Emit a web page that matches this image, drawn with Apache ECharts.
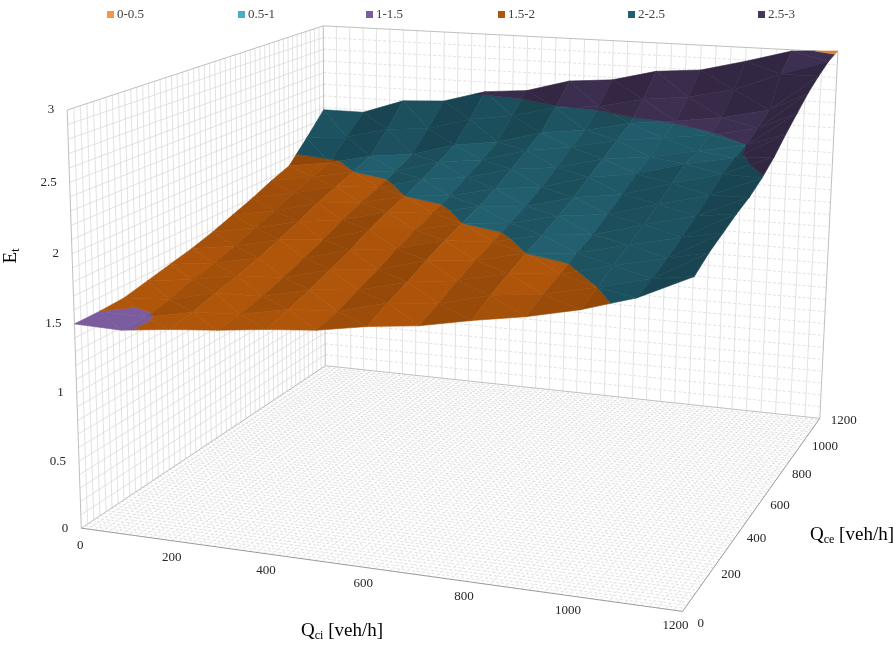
<!DOCTYPE html>
<html>
<head>
<meta charset="utf-8">
<script src="https://cdn.jsdelivr.net/npm/echarts@6/dist/echarts.min.js"></script>
<style>
html, body { margin: 0; padding: 0; background: #fff; }
#chart { width: 893px; height: 645px; }
</style>
</head>
<body>
<div id="chart"></div>
<script>
// Q_ci along the front, Q_ce along the depth, E_t up
var qciCategories = [0, 100, 200, 300, 400, 500, 600, 700, 800, 900, 1000, 1100, 1200];
var qceCategories = [0, 100, 200, 300, 400, 500, 600, 700, 800, 900, 1000, 1100, 1200];
// one row per Q_ce value, one column per Q_ci value
var etByQce = [
    [1.50, 1.49, 1.53, 1.56, 1.60, 1.63, 1.69, 1.73, 1.80, 1.86, 1.94, 2.05, 2.22],
    [1.50, 1.49, 1.56, 1.58, 1.65, 1.67, 1.76, 1.79, 1.88, 1.92, 2.00, 2.09, 2.29],
    [1.51, 1.53, 1.61, 1.62, 1.70, 1.73, 1.82, 1.86, 1.94, 1.97, 2.06, 2.14, 2.34],
    [1.55, 1.59, 1.65, 1.67, 1.76, 1.79, 1.89, 1.92, 2.00, 2.03, 2.12, 2.20, 2.39],
    [1.59, 1.63, 1.70, 1.73, 1.82, 1.86, 1.95, 1.97, 2.05, 2.08, 2.18, 2.27, 2.43],
    [1.63, 1.68, 1.76, 1.79, 1.89, 1.92, 2.00, 2.03, 2.11, 2.15, 2.25, 2.34, 2.49],
    [1.68, 1.74, 1.82, 1.86, 1.95, 1.97, 2.05, 2.08, 2.17, 2.22, 2.33, 2.42, 2.57],
    [1.74, 1.80, 1.89, 1.92, 2.00, 2.03, 2.11, 2.15, 2.25, 2.30, 2.40, 2.47, 2.67],
    [1.80, 1.87, 1.95, 1.97, 2.06, 2.10, 2.19, 2.23, 2.32, 2.36, 2.43, 2.50, 2.76],
    [1.87, 1.93, 2.00, 2.03, 2.13, 2.17, 2.27, 2.32, 2.40, 2.44, 2.49, 2.56, 2.85],
    [1.93, 1.98, 2.06, 2.10, 2.20, 2.25, 2.35, 2.39, 2.47, 2.51, 2.56, 2.64, 2.92],
    [2.10, 2.13, 2.22, 2.25, 2.35, 2.40, 2.49, 2.52, 2.60, 2.64, 2.72, 2.86, 2.98],
    [2.28, 2.28, 2.40, 2.42, 2.52, 2.55, 2.65, 2.68, 2.77, 2.80, 2.89, 2.99, 3.01]
];
var bandNames = ['0-0.5', '0.5-1', '1-1.5', '1.5-2', '2-2.5', '2.5-3'];
var bandColors = ['#F79646', '#4BACC6', '#7B5C9E', '#B0560A', '#226070', '#46365C', '#F79646'];
var etTicks = [0, 0.5, 1, 1.5, 2, 2.5, 3];
var qTicks = [0, 200, 400, 600, 800, 1000, 1200];

var Q_MAX = 1200, E_MAX = 3, BAND = 0.5;
var FONT = '"Liberation Serif", "Times New Roman", serif';

// box corners and axis ticks on screen, used to fit a perspective camera (x, y, z in 0..1)
var frameRefs = [
    [0, 0, 0, 83, 530], [1, 0, 0, 690, 610], [1, 1, 0, 820, 418], [0, 1, 0, 327, 367],
    [0, 0, 1, 67, 107], [0, 1, 1, 322, 25], [1, 1, 1, 837, 52], [1, 0, 1, 700, 158],
    [0, 0, 1 / 6, 80.5, 463], [0, 0, 1 / 3, 77.8, 393], [0, 0, 0.5, 75.2, 324],
    [0, 0, 2 / 3, 72.5, 253], [0, 0, 5 / 6, 69.8, 182],
    [1 / 6, 0, 0, 172, 541.7], [1 / 3, 0, 0, 268, 554.4], [0.5, 0, 0, 363, 566.9],
    [2 / 3, 0, 0, 463, 580.1], [5 / 6, 0, 0, 573, 594.6]
];
var legendLefts = [102, 233, 361, 493, 623, 753];

function solveCamera(refs) {
    var n = 11, M = [], r = [], a, b, c;
    for (a = 0; a < n; a++) { M.push(new Array(n).fill(0)); r.push(0); }
    refs.forEach(function (p) {
        var X = p[0], Y = p[1], Z = p[2], u = p[3], v = p[4];
        [[X, Y, Z, 1, 0, 0, 0, 0, -u * X, -u * Y, -u * Z, u],
         [0, 0, 0, 0, X, Y, Z, 1, -v * X, -v * Y, -v * Z, v]].forEach(function (row) {
            for (a = 0; a < n; a++) {
                for (b = 0; b < n; b++) M[a][b] += row[a] * row[b];
                r[a] += row[a] * row[n];
            }
        });
    });
    for (c = 0; c < n; c++) {
        var piv = c;
        for (a = c + 1; a < n; a++) if (Math.abs(M[a][c]) > Math.abs(M[piv][c])) piv = a;
        var tmp = M[c]; M[c] = M[piv]; M[piv] = tmp;
        var t2 = r[c]; r[c] = r[piv]; r[piv] = t2;
        for (a = c + 1; a < n; a++) {
            var f = M[a][c] / M[c][c];
            for (b = c; b < n; b++) M[a][b] -= f * M[c][b];
            r[a] -= f * r[c];
        }
    }
    var p = new Array(n).fill(0);
    for (a = n - 1; a >= 0; a--) {
        var s = r[a];
        for (b = a + 1; b < n; b++) s -= M[a][b] * p[b];
        p[a] = s / M[a][a];
    }
    return p;
}
var cam = solveCamera(frameRefs);

function depth(X, Y, Z) { return cam[8] * X + cam[9] * Y + cam[10] * Z + 1; }
function project(X, Y, Z) {
    var w = depth(X, Y, Z);
    return [(cam[0] * X + cam[1] * Y + cam[2] * Z + cam[3]) / w,
            (cam[4] * X + cam[5] * Y + cam[6] * Z + cam[7]) / w];
}
// data units -> screen
function toScreen(q1, q2, e) { return project(q1 / Q_MAX, q2 / Q_MAX, e / E_MAX); }

/* ---------- shading ---------- */
var light = [0.6, 0.2, 1];
(function () { var l = Math.hypot(light[0], light[1], light[2]); light = light.map(function (v) { return v / l; }); })();
function cellFactor(p00, p10, p01, p11) {
    // normal of the cell from its two diagonals
    var u = [(p11[0] - p00[0]) / Q_MAX, (p11[1] - p00[1]) / Q_MAX, (p11[2] - p00[2]) / E_MAX];
    var v = [(p01[0] - p10[0]) / Q_MAX, (p01[1] - p10[1]) / Q_MAX, (p01[2] - p10[2]) / E_MAX];
    var n = [u[1] * v[2] - u[2] * v[1], u[2] * v[0] - u[0] * v[2], u[0] * v[1] - u[1] * v[0]];
    if (n[2] < 0) n = n.map(function (x) { return -x; });
    var len = Math.hypot(n[0], n[1], n[2]);
    var d = (n[0] * light[0] + n[1] * light[1] + n[2] * light[2]) / len;
    return Math.max(0.72, Math.min(1, 1 + 1.0 * (d - 0.72)));
}
function shade(hex, f) {
    var n = parseInt(hex.slice(1), 16);
    var r = Math.round(((n >> 16) & 255) * f), g = Math.round(((n >> 8) & 255) * f), b = Math.round((n & 255) * f);
    return 'rgb(' + r + ',' + g + ',' + b + ')';
}

/* ---------- surface triangles, far ones first ---------- */
var triangles = [];
for (var j = 0; j < qceCategories.length - 1; j++) {
    for (var i = 0; i < qciCategories.length - 1; i++) {
        var p00 = [qciCategories[i], qceCategories[j], etByQce[j][i]];
        var p10 = [qciCategories[i + 1], qceCategories[j], etByQce[j][i + 1]];
        var p01 = [qciCategories[i], qceCategories[j + 1], etByQce[j + 1][i]];
        var p11 = [qciCategories[i + 1], qceCategories[j + 1], etByQce[j + 1][i + 1]];
        var f = cellFactor(p00, p10, p01, p11);
        var t0 = [p00, p10, p01], t1 = [p10, p11, p01];
        t0.f = f; t1.f = f;
        triangles.push(t0, t1);
    }
}
triangles.forEach(function (t) {
    var cx = 0, cy = 0, cz = 0;
    t.forEach(function (p) { cx += p[0] / 3; cy += p[1] / 3; cz += p[2] / 3; });
    t.w = depth(cx / Q_MAX, cy / Q_MAX, cz / E_MAX);
});
triangles.sort(function (a, b) { return b.w - a.w; });

function clipPoly(poly, level, keepAbove) {
    var out = [];
    for (var k = 0; k < poly.length; k++) {
        var a = poly[k], b = poly[(k + 1) % poly.length];
        var ina = keepAbove ? a[2] >= level : a[2] <= level;
        var inb = keepAbove ? b[2] >= level : b[2] <= level;
        if (ina) out.push(a);
        if (ina !== inb) {
            var t = (level - a[2]) / (b[2] - a[2]);
            out.push([a[0] + t * (b[0] - a[0]), a[1] + t * (b[1] - a[1]), level]);
        }
    }
    return out;
}
function polyArea(poly) {
    var s = 0;
    for (var k = 0; k < poly.length; k++) {
        var a = poly[k], b = poly[(k + 1) % poly.length];
        s += a[0] * b[1] - b[0] * a[1];
    }
    return Math.abs(s / 2);
}

function renderSurface(params, api) {
    var t = triangles[params.dataIndex];
    var zs = t.map(function (p) { return p[2]; });
    var zmin = Math.min.apply(null, zs), zmax = Math.max.apply(null, zs);
    var children = [];
    for (var b = 0; b < bandColors.length; b++) {
        var lo = b * BAND, hi = lo + BAND, piece;
        if (zmax - zmin < 1e-9) {
            if (Math.max(0, Math.ceil(zmin / BAND - 1e-9) - 1) !== b) continue;
            piece = t;
        } else {
            if (zmax <= lo || zmin > hi) continue;
            piece = clipPoly(clipPoly(t, lo, true), hi, false);
            if (piece.length < 3 || polyArea(piece) < 0.5) continue;
        }
        var col = shade(bandColors[b], t.f);
        children.push({
            type: 'polygon',
            shape: { points: piece.map(function (p) { return toScreen(p[0], p[1], p[2]); }) },
            style: { fill: col, stroke: col, lineWidth: 0.6 },
            silent: true
        });
    }
    return { type: 'group', children: children };
}

/* ---------- walls and floor ---------- */
var frameStyles = [
    { color: '#d6d6d6', width: 0.7, dash: null },
    { color: '#d6d6d6', width: 0.7, dash: [3, 2] },
    { color: '#bfbfbf', width: 1, dash: null },
    { color: '#9a9a9a', width: 1, dash: null }
];
var frameSegments = [];
var k;
for (k = 1; k < 30; k++) {
    var ez = k / 30;
    frameSegments.push([0, 0, ez, 0, 1, ez, 0], [0, 1, ez, 1, 1, ez, 1]);
}
for (k = 1; k < 48; k++) frameSegments.push([0, k / 48, 0, 0, k / 48, 1, 0]);
for (k = 1; k < 36; k++) frameSegments.push([k / 36, 1, 0, k / 36, 1, 1, 0]);
for (k = 1; k < 80; k++) {
    frameSegments.push([k / 80, 0, 0, k / 80, 1, 0, 1], [0, k / 80, 0, 1, k / 80, 0, 1]);
}
frameSegments.push(
    [0, 0, 0, 0, 0, 1, 2], [0, 0, 1, 0, 1, 1, 2], [0, 1, 0, 0, 1, 1, 2],
    [0, 1, 1, 1, 1, 1, 2], [1, 1, 0, 1, 1, 1, 2], [0, 1, 0, 1, 1, 0, 2], [0, 0, 0, 0, 1, 0, 2],
    [0, 0, 0, 1, 0, 0, 3], [1, 0, 0, 1, 1, 0, 3]
);
function renderFrame(params, api) {
    var s = frameSegments[params.dataIndex];
    var a = project(s[0], s[1], s[2]), b = project(s[3], s[4], s[5]);
    var st = frameStyles[s[6]];
    return {
        type: 'line', silent: true,
        shape: { x1: a[0], y1: a[1], x2: b[0], y2: b[1] },
        style: { stroke: st.color, lineWidth: st.width, lineDash: st.dash }
    };
}

/* ---------- tick labels ---------- */
var tickStyle = { fill: '#262626', font: '13px ' + FONT };
function renderEtLabel(params, api) {
    var e = etTicks[params.dataIndex], p = toScreen(0, 0, e);
    return { type: 'text', silent: true, x: p[0] - 13, y: p[1],
        style: Object.assign({ text: String(e), align: 'right', verticalAlign: 'middle' }, tickStyle) };
}
function renderQciLabel(params, api) {
    var q = qTicks[params.dataIndex], p = toScreen(q, 0, 0);
    return { type: 'text', silent: true, x: p[0] - 1 - 6 * q / Q_MAX, y: p[1] + 17 - 3 * q / Q_MAX,
        style: Object.assign({ text: String(q), align: 'center', verticalAlign: 'middle' }, tickStyle) };
}
function renderQceLabel(params, api) {
    var q = qTicks[params.dataIndex], p = toScreen(Q_MAX, q, 0);
    return { type: 'text', silent: true, x: p[0] + (q === 0 ? 15 : 11), y: p[1] + (q === 0 ? 12 : 2),
        style: Object.assign({ text: String(q), align: 'left', verticalAlign: 'middle' }, tickStyle) };
}

var titleRich = {
    q: { fontSize: 19, fontFamily: FONT, fill: '#000', color: '#000' },
    s: { fontSize: 12, fontFamily: FONT, fill: '#000', color: '#000', padding: [9, 0, 0, 0] }
};

function renderNothing() { return null; }
var series = bandNames.map(function (name, b) {
    return { type: 'custom', coordinateSystem: 'none', name: name, data: [],
             renderItem: renderNothing, itemStyle: { color: bandColors[b] } };
});
series.push(
    { type: 'custom', coordinateSystem: 'none', z: 1, renderItem: renderFrame,
      data: frameSegments.map(function (s, idx) { return [idx]; }) },
    { type: 'custom', coordinateSystem: 'none', z: 2, renderItem: renderSurface,
      data: triangles.map(function (t, idx) { return [idx]; }) },
    { type: 'custom', coordinateSystem: 'none', z: 3, renderItem: renderEtLabel,
      data: etTicks.map(function (v) { return [v]; }) },
    { type: 'custom', coordinateSystem: 'none', z: 3, renderItem: renderQciLabel,
      data: qTicks.map(function (v) { return [v]; }) },
    { type: 'custom', coordinateSystem: 'none', z: 3, renderItem: renderQceLabel,
      data: qTicks.map(function (v) { return [v]; }) }
);

var chart = echarts.init(document.getElementById('chart'), null, { renderer: 'canvas' });
chart.setOption({
    animation: false,
    backgroundColor: '#ffffff',
    legend: bandNames.map(function (name, b) {
        return {
            data: [name], top: 3, left: legendLefts[b], icon: 'rect',
            itemWidth: 7, itemHeight: 7, itemGap: 0,
            textStyle: { fontFamily: FONT, fontSize: 13, color: '#404040', padding: [0, 0, 0, -2] }
        };
    }),
    graphic: [
        { type: 'text', x: 342, y: 631, silent: true,
          style: { text: '{q|Q}{s|ci}{q| [veh/h]}', rich: titleRich, align: 'center', verticalAlign: 'middle' } },
        { type: 'text', x: 810, y: 535, silent: true,
          style: { text: '{q|Q}{s|ce}{q| [veh/h]}', rich: titleRich, align: 'left', verticalAlign: 'middle' } },
        { type: 'text', x: 11, y: 256, rotation: Math.PI / 2, silent: true,
          style: { text: '{q|E}{s|t}', rich: titleRich, align: 'center', verticalAlign: 'middle' } }
    ],
    series: series
});
</script>
</body>
</html>
